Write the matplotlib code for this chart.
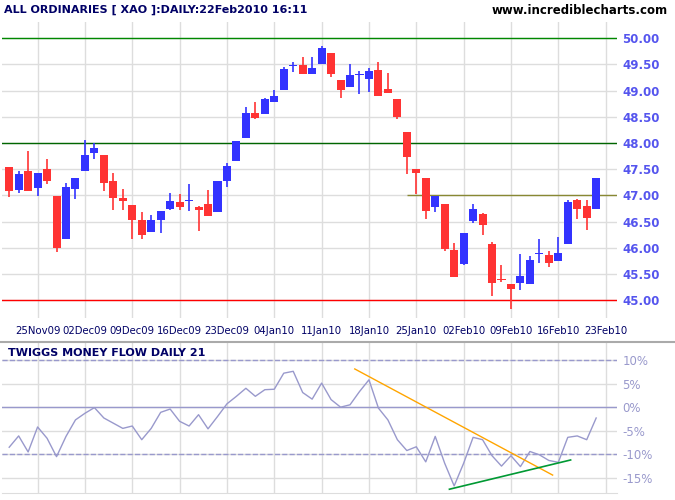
import matplotlib.pyplot as plt
import numpy as np

# daily candles, ALL ORDINARIES (XAO) 20Nov09 - 22Feb10
opens = [47.55, 47.11, 47.47, 47.15, 47.51, 46.98, 46.16, 47.13, 47.47, 47.80,
         47.78, 47.28, 46.96, 46.81, 46.54, 46.30, 46.53, 46.75, 46.87, 46.90,
         46.77, 46.83, 46.68, 47.27, 47.66, 48.10, 48.58, 48.56, 48.78, 49.01,
         49.47, 49.49, 49.32, 49.51, 49.72, 49.20, 49.07, 49.29, 49.22, 49.39,
         49.03, 48.84, 48.21, 47.50, 47.33, 46.78, 46.84, 45.96, 45.69, 46.51,
         46.65, 46.07, 45.39, 45.31, 45.33, 45.31, 45.88, 45.86, 45.75, 46.07,
         46.91, 46.80, 46.74]
closes = [47.08, 47.40, 47.09, 47.42, 47.28, 45.99, 47.17, 47.34, 47.78, 47.91,
          47.23, 46.96, 46.89, 46.54, 46.24, 46.53, 46.70, 46.89, 46.77, 46.91,
          46.73, 46.60, 47.27, 47.57, 48.04, 48.58, 48.48, 48.84, 48.90, 49.41,
          49.48, 49.32, 49.43, 49.81, 49.32, 49.01, 49.29, 49.30, 49.37, 48.89,
          48.95, 48.49, 47.73, 47.43, 46.70, 46.99, 45.98, 45.44, 46.28, 46.74,
          46.44, 45.33, 45.38, 45.22, 45.46, 45.77, 45.89, 45.71, 45.90, 46.87,
          46.74, 46.57, 47.33]
highs = [47.55, 47.47, 47.85, 47.42, 47.70, 46.98, 47.23, 47.34, 48.06, 48.00,
         47.78, 47.42, 47.13, 46.81, 46.68, 46.62, 46.70, 47.04, 47.02, 47.21,
         46.79, 47.11, 47.27, 47.61, 48.04, 48.69, 48.78, 48.86, 49.01, 49.45,
         49.54, 49.64, 49.64, 49.85, 49.72, 49.20, 49.50, 49.37, 49.43, 49.54,
         49.33, 48.84, 48.21, 47.50, 47.33, 46.99, 46.84, 46.09, 46.28, 46.84,
         46.67, 46.11, 45.67, 45.31, 45.88, 45.85, 46.17, 45.94, 46.21, 46.91,
         46.93, 46.91, 47.33]
lows = [46.97, 47.05, 47.09, 46.99, 47.21, 45.92, 46.16, 46.94, 47.47, 47.70,
        47.09, 46.73, 46.73, 46.16, 46.16, 46.30, 46.28, 46.73, 46.73, 46.70,
        46.32, 46.60, 46.68, 47.17, 47.66, 48.10, 48.46, 48.56, 48.78, 49.01,
        49.35, 49.32, 49.32, 49.51, 49.26, 48.86, 49.07, 48.93, 48.97, 48.89,
        48.95, 48.46, 47.41, 47.03, 46.55, 46.68, 45.94, 45.44, 45.67, 46.47,
        46.25, 45.08, 45.35, 44.83, 45.20, 45.31, 45.71, 45.64, 45.75, 46.07,
        46.55, 46.34, 46.74]

money_flow = [-8.5, -6.1, -9.5, -4.2, -6.6, -10.5, -6.2, -2.7, -1.3, -0.1,
              -2.3, -3.4, -4.5, -4.0, -6.9, -4.5, -1.1, -0.4, -3.0, -4.0,
              -1.6, -4.6, -2.0, 0.7, 2.3, 4.0, 2.3, 3.7, 3.8, 7.2,
              7.6, 3.1, 1.7, 5.1, 1.6, 0.0, 0.5, 3.3, 5.8, -0.2,
              -2.7, -6.9, -9.2, -8.4, -11.6, -6.2, -11.9, -16.7, -11.9, -6.4,
              -6.9, -10.3, -12.5, -10.3, -12.6, -9.4, -10.1, -11.3, -11.7, -6.4,
              -6.1, -6.9, -2.3]

date_labels = ['25Nov09', '02Dec09', '09Dec09', '16Dec09', '23Dec09', '04Jan10', '11Jan10',
               '18Jan10', '25Jan10', '02Feb10', '09Feb10', '16Feb10', '23Feb10']
date_idx = [3, 8, 13, 18, 23, 28, 33, 38, 43, 48, 53, 58, 63]

# drawn trend lines on money flow (index, value)
down_trend = ([36.5, 57.4], [8.1, -14.4])
up_trend = ([46.5, 59.3], [-17.4, -11.2])

RED = '#ff3333'
BLUE = '#3333ff'
NAVY = '#000066'
PURPLE = '#9999cc'

fig = plt.figure(figsize=(6.75, 5), dpi=100)
ax = fig.add_axes([2/675, 182/500, 615/675, 296/500])
ax2 = fig.add_axes([2/675, 7/500, 615/675, 150/500])

x = np.arange(len(opens))
o = np.array(opens); c = np.array(closes)
cols = [BLUE if cc >= oo else RED for oo, cc in zip(o, c)]
ax.vlines(x, lows, highs, colors=cols, lw=1.2, zorder=3)
body = np.maximum(np.abs(c - o), 0.02)
ax.bar(x, body, bottom=np.minimum(o, c), width=0.85, color=cols, zorder=4)

ax.axhline(50, color='#008800', lw=1, zorder=2)
ax.axhline(48, color='#006600', lw=1, zorder=2)
ax.axhline(45, color='#ff0000', lw=1, zorder=2)
ax.hlines(47, 42, 64.2, color='#888833', lw=1, zorder=2)

ax.set_xlim(-0.76, 64.2)
ax.set_ylim(44.66, 50.31)
ax.set_yticks(np.arange(45, 50.01, 0.5))
ax.set_yticklabels(['%.2f' % v for v in np.arange(45, 50.01, 0.5)])
ax.yaxis.tick_right()
ax.tick_params(axis='y', length=0, labelsize=8.5, labelcolor='#5555ee', pad=4)
ax.set_xticks(date_idx)
ax.set_xticklabels(date_labels)
ax.tick_params(axis='x', length=0, labelsize=7.3, labelcolor=NAVY, pad=6)
ax.grid(color='#dddddd', lw=1)
for s in ax.spines.values():
    s.set_visible(False)
for lab in ax.get_yticklabels():
    lab.set_fontweight('bold')

# money flow panel
ax2.plot(x, money_flow, color=PURPLE, lw=1, zorder=3)
ax2.plot(*down_trend, color='#ffa500', lw=1, zorder=4)
ax2.plot(*up_trend, color='#009933', lw=1.2, zorder=4)
ax2.axhline(10, color=PURPLE, ls='--', lw=1)
ax2.axhline(-10, color=PURPLE, ls='--', lw=1)
ax2.axhline(0, color=PURPLE, lw=1)
ax2.set_xlim(-0.76, 64.2)
ax2.set_ylim(-18.2, 13.6)
ax2.set_yticks([10, 5, 0, -5, -10, -15])
ax2.set_yticklabels(['10%', '5%', '0%', '-5%', '-10%', '-15%'])
ax2.yaxis.tick_right()
ax2.tick_params(axis='y', length=0, labelsize=8.5, labelcolor=PURPLE, pad=4)
ax2.set_xticks(date_idx)
ax2.set_xticklabels([])
ax2.tick_params(axis='x', length=0)
ax2.grid(color='#dddddd', lw=1)
for s in ax2.spines.values():
    s.set_visible(False)
ax2.spines['bottom'].set_visible(True)
ax2.spines['bottom'].set_color('#dddddd')
ax2.text(0.01, 0.97, 'TWIGGS MONEY FLOW DAILY 21', transform=ax2.transAxes,
         fontsize=8, fontweight='bold', color=NAVY, va='top')

fig.add_artist(plt.Line2D([0, 1], [158/500, 158/500], color='#aaaaaa', lw=1.5))
fig.text(4/675, 1 - 10/500, 'ALL ORDINARIES [ XAO ]:DAILY:22Feb2010 16:11',
         fontsize=8, fontweight='bold', color=NAVY, va='center')
fig.text(668/675, 1 - 10/500, 'www.incrediblecharts.com', fontsize=8.5,
         fontweight='bold', color='black', va='center', ha='right')

fig.savefig('out.png', dpi=100)
